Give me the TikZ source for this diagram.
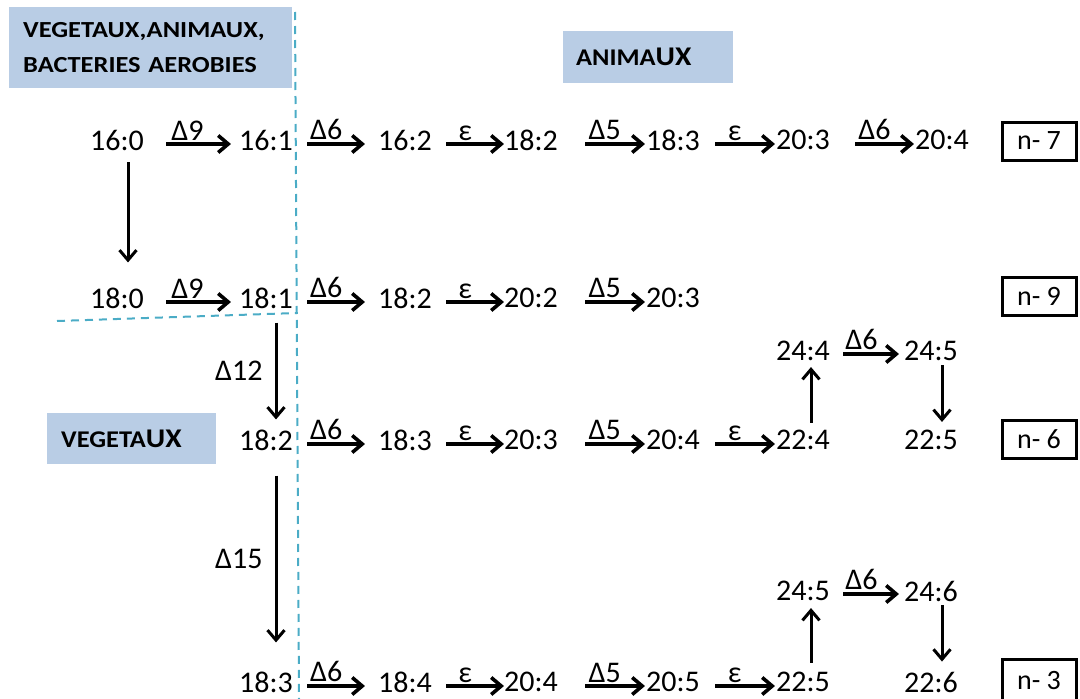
\documentclass[tikz,border=0pt]{standalone}
\usepackage{fontspec}
\setmainfont{Carlito}
\usetikzlibrary{arrows.meta}
\definecolor{boxblue}{HTML}{B9CDE5}
\definecolor{dashblue}{HTML}{4BACC6}
\newcommand{\arw}{-{Straight Barb[length=10pt,width=17pt]}}
\newcommand{\boxfont}[2]{\bfseries\fontsize{#1}{35}\selectfont\addfontfeatures{FakeStretch=#2}}
\begin{document}
\begin{tikzpicture}[x=1pt,y=-1pt,
  num/.style={font=\fontsize{30}{36}\selectfont, inner sep=0pt},
  lbl/.style={font=\fontsize{30}{36}\selectfont, inner sep=0pt, pos=.33, above=2pt},
  vlbl/.style={font=\fontsize{30}{36}\selectfont, inner sep=0pt, midway, left=12pt},
  harw/.style={line width=3.6pt, \arw},
  varw/.style={line width=3pt, \arw},
  nbox/.style={draw, line width=3pt, minimum width=74pt, minimum height=38pt, inner sep=0pt, font=\fontsize{28}{32}\selectfont},
  bluebox/.style={fill=boxblue, anchor=north west, align=left, inner ysep=0pt},
  sep/.style={dashblue, line width=2pt, dash pattern=on 8pt off 6pt}]
\useasboundingbox (0,0) rectangle (1080,699);
\clip (0,0) rectangle (1080,699);
%blue boxes
\node[bluebox, text width=255pt, inner xsep=14pt, minimum height=81pt, font=\boxfont{23}{1.15}] (bact) at (9,7) {VEGETAUX,ANIMAUX,\\BACTERIES AEROBIES};
\node[bluebox, text width=144pt, inner xsep=13pt, minimum height=52pt, font=\boxfont{24}{1.1}] (anim) at (563,31) {ANIMA{\fontsize{27}{30}\selectfont UX}};
\node[bluebox, text width=141pt, inner xsep=14pt, minimum height=51pt, font=\boxfont{24}{1.1}] (veg) at (47,413) {VEGETA{\fontsize{27}{30}\selectfont UX}};
%dashed separators
\draw[sep] (295,12) -- (299,699);
\draw[sep] (57,321) -- (297,313);
%row n-7
\node[num] (p160) at (117,140) {16:0};
\node[num] (p161) at (266,140) {16:1};
\node[num] (p162) at (405,140) {16:2};
\node[num] (p182) at (531,140) {18:2};
\node[num] (p183) at (673,140) {18:3};
\node[num] (p203) at (803,140) {20:3};
\node[num] (p204) at (942,140) {20:4};
\node[nbox] (n7) at (1039,141) {n- 7};
\draw[harw] ([xshift=22pt,yshift=-4pt]p160.east) -- node[lbl]{Δ9} ([xshift=-8pt,yshift=-4pt]p161.west);
\draw[harw] ([xshift=14pt,yshift=-4pt]p161.east) -- node[lbl]{Δ6} ([xshift=-13pt,yshift=-4pt]p162.west);
\draw[harw] ([xshift=14pt,yshift=-4pt]p162.east) -- node[lbl]{ε} ([xshift=0pt,yshift=-4pt]p182.west);
\draw[harw] ([xshift=27pt,yshift=-4pt]p182.east) -- node[lbl]{Δ5} ([xshift=-1pt,yshift=-4pt]p183.west);
\draw[harw] ([xshift=15pt,yshift=-4pt]p183.east) -- node[lbl]{ε} ([xshift=-1pt,yshift=-4pt]p203.west);
\draw[harw] ([xshift=25pt,yshift=-4pt]p203.east) -- node[lbl]{Δ6} ([xshift=-1pt,yshift=-4pt]p204.west);
%row n-9
\node[num] (q180) at (117,298) {18:0};
\node[num] (q181) at (266,298) {18:1};
\node[num] (q182) at (405,298) {18:2};
\node[num] (q202) at (531,298) {20:2};
\node[num] (q203) at (673,298) {20:3};
\node[nbox] (n9) at (1039,296) {n- 9};
\draw[varw] ([xshift=11pt,yshift=-12pt]p160.south) -- ([xshift=11pt,yshift=25pt]q180.north);
\draw[harw] ([xshift=22pt,yshift=-4pt]q180.east) -- node[lbl]{Δ9} ([xshift=-8pt,yshift=-4pt]q181.west);
\draw[harw] ([xshift=14pt,yshift=-4pt]q181.east) -- node[lbl]{Δ6} ([xshift=-13pt,yshift=-4pt]q182.west);
\draw[harw] ([xshift=14pt,yshift=-4pt]q182.east) -- node[lbl]{ε} ([xshift=0pt,yshift=-4pt]q202.west);
\draw[harw] ([xshift=27pt,yshift=-4pt]q202.east) -- node[lbl]{Δ5} ([xshift=-1pt,yshift=-4pt]q203.west);
%row n-6
\node[num] (s182) at (266,440) {18:2};
\node[num] (s183) at (405,440) {18:3};
\node[num] (s203) at (531,440) {20:3};
\node[num] (s204) at (673,440) {20:4};
\node[num] (s224) at (803,440) {22:4};
\node[num] (s225) at (931,440) {22:5};
\node[num] (s244) at (803,351) {24:4};
\node[num] (s245) at (931,351) {24:5};
\node[nbox] (n6) at (1039,439) {n- 6};
\draw[varw] ([xshift=10pt,yshift=-14pt]q181.south) -- node[vlbl]{Δ12} ([xshift=10pt,yshift=10pt]s182.north);
\draw[harw] ([xshift=14pt,yshift=-4pt]s182.east) -- node[lbl]{Δ6} ([xshift=-13pt,yshift=-4pt]s183.west);
\draw[harw] ([xshift=14pt,yshift=-4pt]s183.east) -- node[lbl]{ε} ([xshift=0pt,yshift=-4pt]s203.west);
\draw[harw] ([xshift=27pt,yshift=-4pt]s203.east) -- node[lbl]{Δ5} ([xshift=-1pt,yshift=-4pt]s204.west);
\draw[harw] ([xshift=15pt,yshift=-4pt]s204.east) -- node[lbl]{ε} ([xshift=-1pt,yshift=-4pt]s224.west);
\draw[varw] ([xshift=8pt,yshift=7pt]s224.north) -- ([xshift=8pt,yshift=-6pt]s244.south);
\draw[harw] ([xshift=13pt,yshift=-3pt]s244.east) -- node[lbl]{Δ6} ([xshift=-5pt,yshift=-3pt]s245.west);
\draw[varw] ([xshift=11pt,yshift=-4pt]s245.south) -- ([xshift=11pt,yshift=8pt]s225.north);
%row n-3
\node[num] (t183) at (266,682) {18:3};
\node[num] (t184) at (405,682) {18:4};
\node[num] (t204) at (531,682) {20:4};
\node[num] (t205) at (673,682) {20:5};
\node[num] (t225) at (803,682) {22:5};
\node[num] (t226) at (931,682) {22:6};
\node[num] (t245) at (803,591) {24:5};
\node[num] (t246) at (931,591) {24:6};
\node[nbox, minimum height=44pt] (n3) at (1039,681) {n- 3};
\draw[varw] ([xshift=10pt,yshift=-25pt]s182.south) -- node[vlbl]{Δ15} ([xshift=10pt,yshift=29pt]t183.north);
\draw[harw] ([xshift=14pt,yshift=-4pt]t183.east) -- node[lbl]{Δ6} ([xshift=-13pt,yshift=-4pt]t184.west);
\draw[harw] ([xshift=14pt,yshift=-4pt]t184.east) -- node[lbl]{ε} ([xshift=0pt,yshift=-4pt]t204.west);
\draw[harw] ([xshift=27pt,yshift=-4pt]t204.east) -- node[lbl]{Δ5} ([xshift=-1pt,yshift=-4pt]t205.west);
\draw[harw] ([xshift=15pt,yshift=-4pt]t205.east) -- node[lbl]{ε} ([xshift=-1pt,yshift=-4pt]t225.west);
\draw[varw] ([xshift=8pt,yshift=9pt]t225.north) -- ([xshift=8pt,yshift=-7pt]t245.south);
\draw[harw] ([xshift=13pt,yshift=-3pt]t245.east) -- node[lbl]{Δ6} ([xshift=-5pt,yshift=-3pt]t246.west);
\draw[varw] ([xshift=11pt,yshift=-4pt]t246.south) -- ([xshift=11pt,yshift=10pt]t226.north);
\end{tikzpicture}
\end{document}
